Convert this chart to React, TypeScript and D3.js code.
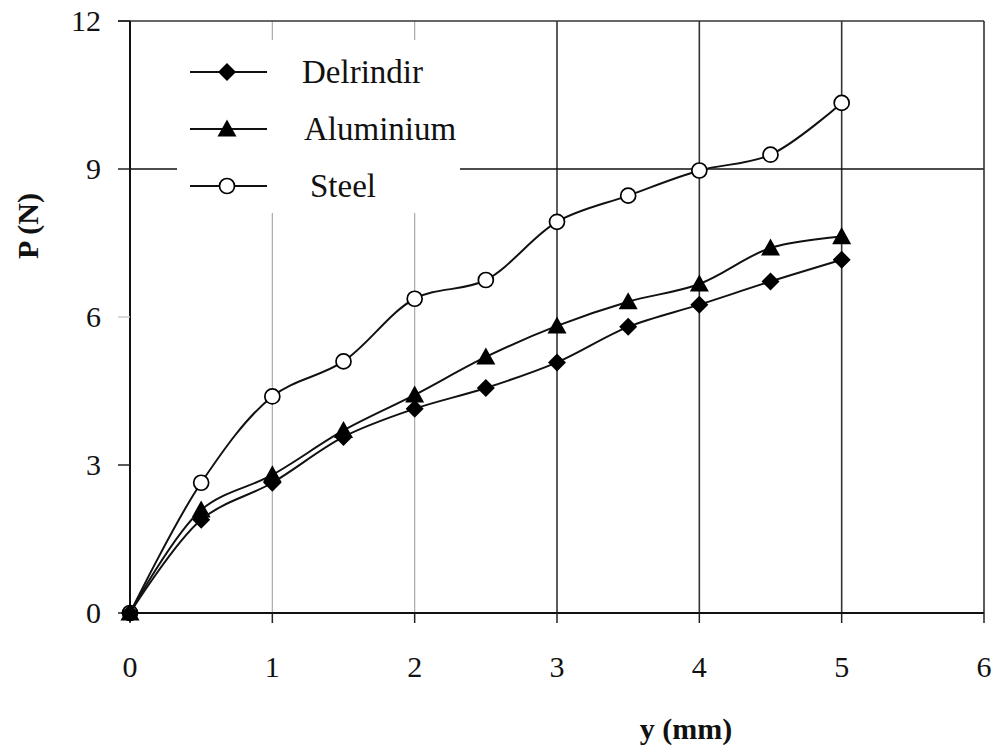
import React from "react";
import * as d3 from "d3";

const xValues = [0, 0.5, 1, 1.5, 2, 2.5, 3, 3.5, 4, 4.5, 5];
const delrindir = [0, 1.89, 2.64, 3.57, 4.14, 4.56, 5.08, 5.8, 6.25, 6.72, 7.16];
const aluminium = [0, 2.09, 2.8, 3.7, 4.42, 5.19, 5.82, 6.31, 6.67, 7.4, 7.63];
const steel = [0, 2.64, 4.39, 5.1, 6.37, 6.75, 7.93, 8.46, 8.97, 9.29, 10.34];
const xTicks = [0, 1, 2, 3, 4, 5, 6];
const yTicks = [0, 3, 6, 9, 12];
const seriesNames = ["Delrindir", "Aluminium", "Steel"];
const seriesMarkers = ["diamond", "triangle", "circle"];

const W = 998, H = 751;
const X0 = 130, X1 = 984, Y0 = 613, Y1 = 21;
const FONT = "Liberation Serif, Times New Roman, Times, serif";

function Marker({ type, x, y }: { type: string; x: number; y: number }) {
  if (type === "diamond") {
    const s = 9;
    return <path d={`M${x},${y - s}L${x + s},${y}L${x},${y + s}L${x - s},${y}Z`} fill="#000" />;
  }
  if (type === "triangle") {
    const s = 9.5;
    return <path d={`M${x},${y - s}L${x + s},${y + s * 0.8}L${x - s},${y + s * 0.8}Z`} fill="#000" />;
  }
  return <circle cx={x} cy={y} r={7.5} fill="#fff" stroke="#000" strokeWidth={1.7} />;
}

export default function App() {
  const x = d3.scaleLinear().domain([0, 6]).range([X0, X1]);
  const y = d3.scaleLinear().domain([0, 12]).range([Y0, Y1]);
  const series = [delrindir, aluminium, steel];
  const line = d3
    .line<number>()
    .x((_, i) => x(xValues[i]))
    .y((d) => y(d))
    .curve(d3.curveCatmullRom.alpha(0.5));

  const legendBox = { x: 177, y: 40, w: 283, h: 173 };
  const legendRows = [72, 129, 186];
  const drawOrder = [2, 1, 0];

  return (
    <svg width={W} height={H} style={{ position: "absolute", left: 0, top: 0, background: "#fff", fontFamily: FONT }}>
      <rect x={0} y={0} width={W} height={H} fill="#fff" />
      {[1, 2].map((t) => (
        <line key={"lg" + t} x1={x(t)} x2={x(t)} y1={Y1} y2={Y0} stroke="#aaa" strokeWidth={1.2} />
      ))}
      {[3, 4, 5].map((t) => (
        <line key={"dg" + t} x1={x(t)} x2={x(t)} y1={Y1} y2={Y0} stroke="#333" strokeWidth={1.6} />
      ))}
      <line x1={X0} x2={X1} y1={y(9)} y2={y(9)} stroke="#111" strokeWidth={1.6} />
      <line x1={X0 - 12} x2={X1} y1={Y1} y2={Y1} stroke="#333" strokeWidth={1.6} />
      <line x1={X1} x2={X1} y1={Y1} y2={Y0} stroke="#333" strokeWidth={1.6} />
      <rect x={legendBox.x} y={legendBox.y} width={legendBox.w} height={legendBox.h} fill="#fff" />
      <line x1={X0} x2={X0} y1={Y1} y2={Y0} stroke="#111" strokeWidth={2} />
      <line x1={X0} x2={X1} y1={Y0} y2={Y0} stroke="#111" strokeWidth={2} />
      {yTicks.map((t) => (
        <g key={"yt" + t}>
          <line x1={X0 - 12} x2={X0} y1={y(t)} y2={y(t)} stroke={t === 6 ? "#ccc" : "#222"} strokeWidth={1.5} />
          <text x={101} y={y(t) + 10} textAnchor="end" fontFamily={FONT} fontSize={30} fill="#111">
            {t}
          </text>
        </g>
      ))}
      {xTicks.map((t) => (
        <g key={"xt" + t}>
          <line x1={x(t)} x2={x(t)} y1={Y0} y2={Y0 + 10} stroke="#222" strokeWidth={1.5} />
          <text x={x(t)} y={677} textAnchor="middle" fontFamily={FONT} fontSize={30} fill="#111">
            {t}
          </text>
        </g>
      ))}
      {drawOrder.map((k) => (
        <g key={"s" + k}>
          <path d={line(series[k]) || ""} fill="none" stroke="#111" strokeWidth={2} />
          {series[k].map((v, i) => (
            <Marker key={i} type={seriesMarkers[k]} x={x(xValues[i])} y={y(v)} />
          ))}
        </g>
      ))}
      {seriesNames.map((n, k) => (
        <g key={"lg" + n}>
          <line x1={190} x2={267} y1={legendRows[k]} y2={legendRows[k]} stroke="#111" strokeWidth={2} />
          <Marker type={seriesMarkers[k]} x={227} y={legendRows[k]} />
          <text x={[302, 304, 310][k]} y={legendRows[k] + 11} fontFamily={FONT} fontSize={33} fill="#111">
            {n}
          </text>
        </g>
      ))}
      <text x={686} y={739} textAnchor="middle" fontFamily={FONT} fontSize={30} fontWeight="bold" fill="#111">
        y (mm)
      </text>
      <text
        transform={`translate(38,226) rotate(-90)`}
        textAnchor="middle"
        fontFamily={FONT}
        fontSize={30}
        fontWeight="bold"
        fill="#111"
      >
        P (N)
      </text>
    </svg>
  );
}
